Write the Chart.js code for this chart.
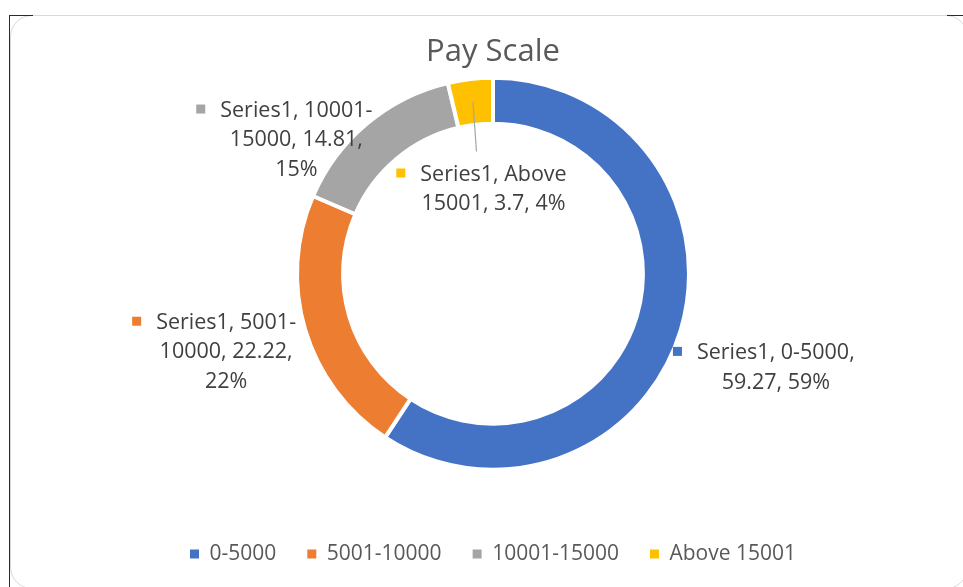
<!DOCTYPE html>
<html>
<head>
<meta charset="utf-8">
<title>Pay Scale</title>
<script src="https://cdn.jsdelivr.net/npm/chart.js@4.4.1/dist/chart.umd.min.js"></script>
<style>
  html, body { margin: 0; padding: 0; background: #fff; overflow: hidden; }
  #wrap { position: relative; width: 963px; height: 587px; }
  .frame { position: absolute; left: 10px; top: 15px; width: 956px; height: 572px;
           border: 1.5px solid #d9d9d9; border-radius: 22px; }
  .edge { position: absolute; background: #2b2b2b; }
  canvas { position: absolute; left: 0; top: 0; }
</style>
</head>
<body>
<div id="wrap">
  <div class="frame"></div>
  <div class="edge" style="left:9px;top:15px;width:1px;height:572px"></div>
  <div class="edge" style="left:9px;top:15px;width:24px;height:1px"></div>
  <div class="edge" style="left:947px;top:15px;width:16px;height:1px"></div>
  <canvas id="payCanvas" width="963" height="587"></canvas>
</div>
<script>
(function() {
'use strict';

var seriesName = 'Series1';
var categories = ['0-5000', '5001-10000', '10001-15000', 'Above 15001'];
var values = [59.27, 22.22, 14.81, 3.7];
var colors = ['#4472C4', '#ED7D31', '#A5A5A5', '#FFC000'];

// where each data label sits, measured from the middle of its arc's outer edge
var labelOffsets = [
  { dx: 97, dy: 22 },
  { dx: -81, dy: -8 },
  { dx: -72, dy: -16 },
  { dx: 23, dy: 92, leader: true }
];

var labelFont = '21.5px "Open Sans"';
var labelColor = '#404040';
var lineGap = 29.5;

function wrapText(ctx, text, maxWidth) {
  var tokens = text.match(/[^ \-]+[ \-]?|[ \-]/g) || [];
  var lines = [];
  var cur = '';
  tokens.forEach(function(t) {
    var test = cur + t;
    if (cur && ctx.measureText(test.replace(/\s+$/, '')).width > maxWidth) {
      lines.push(cur.replace(/\s+$/, ''));
      cur = t;
    } else {
      cur = test;
    }
  });
  if (cur) lines.push(cur.replace(/\s+$/, ''));
  return lines;
}

var dataLabels = {
  id: 'dataLabels',
  afterDatasetsDraw: function(chart) {
    var ctx = chart.ctx;
    var meta = chart.getDatasetMeta(0);
    var total = values.reduce(function(a, b) { return a + b; }, 0);
    ctx.save();
    ctx.font = labelFont;
    meta.data.forEach(function(arc, i) {
      var p = arc.getProps(['x', 'y', 'startAngle', 'endAngle', 'outerRadius', 'innerRadius'], true);
      var mid = (p.startAngle + p.endAngle) / 2;
      var r = p.outerRadius - arc.options.borderWidth / 2;
      var off = labelOffsets[i];
      var ax = p.x + Math.cos(mid) * r + off.dx;
      var ay = p.y + Math.sin(mid) * r + off.dy;

      if (off.leader) {
        var rm = (p.outerRadius + p.innerRadius) / 2;
        ctx.strokeStyle = '#a6a6a6';
        ctx.lineWidth = 1.2;
        ctx.beginPath();
        ctx.moveTo(p.x + Math.cos(mid) * rm, p.y + Math.sin(mid) * rm);
        ctx.lineTo(ax - 17, ay - 21.5);
        ctx.stroke();
      }

      var pct = Math.round(values[i] / total * 100);
      var text = seriesName + ', ' + categories[i] + ', ' + values[i] + ', ' + pct + '%';
      var lines = wrapText(ctx, text, 165);

      var w1 = ctx.measureText(lines[0]).width;
      ctx.fillStyle = colors[i];
      ctx.fillRect(ax - w1 / 2 - 15 - 9, ay - 4.5, 9, 9);

      ctx.fillStyle = labelColor;
      ctx.textAlign = 'center';
      ctx.textBaseline = 'middle';
      lines.forEach(function(line, k) {
        ctx.fillText(line, ax, ay + 1.5 + k * lineGap);
      });
    });
    ctx.restore();
  }
};

var canvas = document.getElementById('payCanvas');
new Chart(canvas.getContext('2d'), {
  type: 'doughnut',
  data: {
    labels: categories,
    datasets: [{
      label: seriesName,
      data: values,
      backgroundColor: colors,
      borderColor: '#ffffff',
      borderWidth: 4,
      hoverBorderWidth: 4,
      hoverOffset: 0
    }]
  },
  options: {
    responsive: false,
    animation: false,
    devicePixelRatio: 1,
    events: [],
    cutout: '76.5%',
    layout: { padding: { left: 23, right: 0, top: 0, bottom: 12.5 } },
    plugins: {
      tooltip: { enabled: false },
      title: {
        display: true,
        text: 'Pay Scale',
        color: '#595959',
        font: { family: 'Open Sans', size: 31, weight: 'normal' },
        padding: { top: 33.6, bottom: 4.9 }
      },
      legend: {
        position: 'bottom',
        title: { display: true, text: '', font: { size: 1 }, padding: { top: 0, bottom: 39.6 } },
        labels: {
          color: '#595959',
          font: { family: 'Open Sans', size: 21 },
          boxWidth: 9,
          boxHeight: 9,
          padding: 31,
          generateLabels: function(chart) {
            var items = Chart.overrides.doughnut.plugins.legend.labels.generateLabels(chart);
            items.forEach(function(it) { it.lineWidth = 0; });
            return items;
          }
        }
      }
    }
  },
  plugins: [dataLabels]
});

})();
</script>
</body>
</html>
